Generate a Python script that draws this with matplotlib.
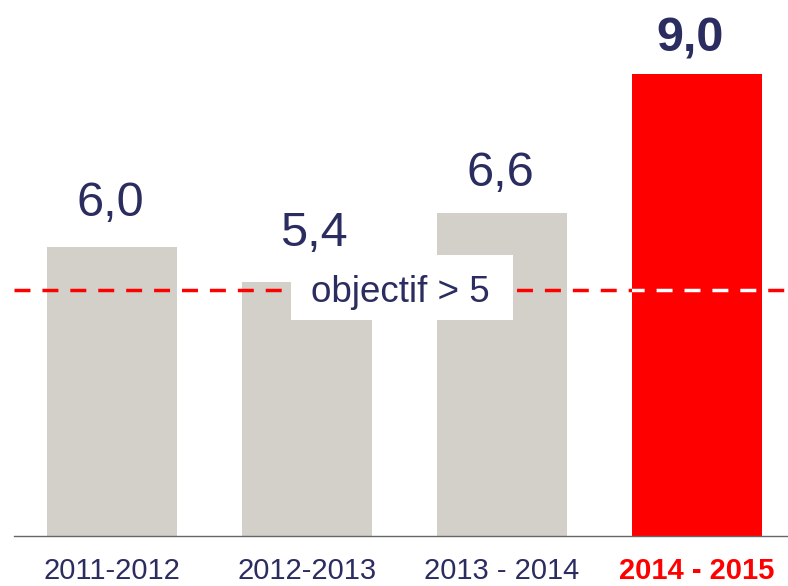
import matplotlib
matplotlib.use("Agg")
import matplotlib.pyplot as plt
from matplotlib.patches import Rectangle

plt.rcParams['font.family'] = ['Liberation Sans', 'DejaVu Sans']

# Data
categories = ["2011-2012", "2012-2013", "2013 - 2014", "2014 - 2015"]
values = [6.0, 5.4, 6.6, 9.0]
value_labels = ["6,0", "5,4", "6,6", "9,0"]
objectif_value = 5.25
objectif_label = "objectif > 5"

NAVY = "#2b2c5f"
RED = "#ff0000"
GREY = "#d3d0c9"

W, H = 788, 586
fig = plt.figure(figsize=(W / 100, H / 100), dpi=100)

# axes placed in pixel terms: left edge at 14px, baseline at 535.5px
base_px = 535.5
ax = fig.add_axes([14 / W, (H - base_px) / H, 1 - 14 / W, base_px / H])
px_per_unit = 57.67
ymin = 1.0
ax.set_ylim(ymin, ymin + base_px / px_per_unit)
ax.set_xlim(-(112 - 14) / 195, (788 - 112) / 195)

x = list(range(len(categories)))
colors = [GREY, GREY, GREY, RED]
bars = ax.bar(x, [v - ymin for v in values], bottom=ymin, width=130 / 195,
              color=colors, zorder=1)

# target line: red dashes, white where it crosses the highlighted bar
lw = 2.5
dash = (11.5 / lw, 8.6 / lw)
ax.axhline(objectif_value, color=RED, lw=lw, dashes=dash, zorder=2)
white = ax.axhline(objectif_value, color="white", lw=lw, dashes=dash, zorder=2.5)
white.set_clip_path(bars[3])

# label box for the target
box = Rectangle((291 / W, (H - 320) / H), 222 / W, 65 / H, transform=fig.transFigure,
                facecolor="white", edgecolor="none", zorder=3)
ax.add_patch(box)
ax.text(400 / W, (H - 301.5) / H, objectif_label, transform=fig.transFigure,
        ha="center", va="baseline", fontsize=26.5, color=NAVY, zorder=4)

# value labels above bars (offsets in points)
label_offsets = [(-1, 22.3), (5, 25.9), (-1, 19.4), (-5, 16.6)]
for i, (v, lab) in enumerate(zip(values, value_labels)):
    ax.annotate(lab, (x[i], v), xytext=label_offsets[i], textcoords="offset points",
                ha="center", va="baseline", fontsize=35, color=NAVY,
                fontweight="bold" if i == 3 else "normal", zorder=4)

# category tick labels
ax.set_xticks(x, labels=categories)
ax.tick_params(axis="x", length=0, pad=15.2, labelsize=21)
for i, t in enumerate(ax.get_xticklabels()):
    if i == 3:
        t.set_color(RED)
        t.set_fontweight("bold")
    else:
        t.set_color(NAVY)
ax.set_yticks([])
for s in ["top", "right", "left"]:
    ax.spines[s].set_visible(False)
ax.spines["bottom"].set_color("#666666")
ax.spines["bottom"].set_linewidth(1.0)

fig.savefig("out.png", dpi=100)
